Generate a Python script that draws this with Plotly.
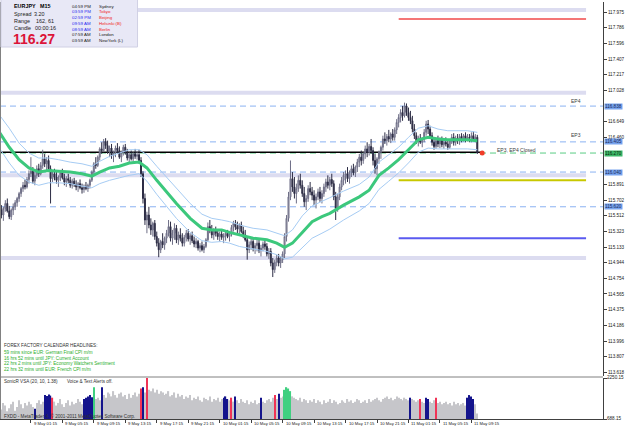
import plotly.graph_objects as go

# ---------------- data ----------------
opens = [115.66,115.58,115.52,115.60,115.66,115.57,115.50,115.58,115.62,115.67,
115.72,115.78,115.84,115.88,115.86,115.95,116.02,116.05,115.93,116.00,
116.08,116.02,116.12,116.20,116.14,116.18,116.08,115.96,116.02,115.98,
115.94,115.98,116.03,115.97,115.92,115.96,115.94,115.88,115.93,115.89,
115.86,115.90,115.85,115.83,115.87,115.84,115.88,115.94,116.04,116.14,
116.12,116.22,116.32,116.30,116.41,116.36,116.29,116.33,116.24,116.27,
116.33,116.30,116.22,116.28,116.34,116.27,116.21,116.25,116.20,116.26,
116.23,116.25,116.18,116.02,115.72,115.46,115.52,115.40,115.34,115.42,
115.26,115.18,115.10,115.20,115.16,115.24,115.30,115.38,115.24,115.30,
115.36,115.22,115.28,115.24,115.18,115.25,115.30,115.23,115.27,115.21,
115.17,115.20,115.12,115.15,115.10,115.14,115.22,115.38,115.34,115.28,
115.33,115.30,115.26,115.29,115.25,115.27,115.30,115.26,115.30,115.37,
115.42,115.38,115.35,115.40,115.32,115.28,115.22,115.10,115.16,115.20,
115.12,115.15,115.18,115.09,115.12,115.17,115.14,115.05,115.08,114.94,
114.86,114.95,115.00,114.94,114.98,115.05,115.26,115.48,115.74,115.96,
115.86,115.78,115.84,115.94,115.88,115.78,115.68,115.72,115.84,115.80,
115.76,115.70,115.74,115.80,115.72,115.78,115.86,115.92,115.88,115.95,
115.90,115.74,115.60,115.74,115.86,115.94,116.00,116.02,115.96,116.04,
116.08,116.03,116.10,116.16,116.22,116.18,116.26,116.32,116.28,116.35,
116.30,116.18,116.08,116.20,116.28,116.34,116.44,116.42,116.47,116.44,
116.50,116.46,116.55,116.64,116.70,116.76,116.72,116.84,116.76,116.70,
116.66,116.56,116.48,116.42,116.45,116.40,116.44,116.52,116.62,116.56,
116.48,116.40,116.35,116.42,116.38,116.44,116.37,116.40,116.38,116.34,
116.42,116.46,116.40,116.45,116.42,116.47,116.44,116.48,116.43,116.46,
116.45,116.48,116.44,116.46]
highs = [115.72,115.64,115.62,115.70,115.72,115.63,115.60,115.66,115.70,115.74,
115.80,115.86,115.92,115.95,115.98,116.06,116.22,116.10,116.04,116.12,
116.14,116.16,116.31,116.26,116.22,116.24,116.12,116.06,116.08,116.04,
116.00,116.06,116.08,116.02,115.99,116.02,115.98,115.96,115.97,115.94,
115.92,115.95,115.90,115.89,115.92,115.90,115.96,116.06,116.16,116.22,
116.24,116.34,116.40,116.44,116.45,116.42,116.36,116.38,116.30,116.36,
116.39,116.35,116.30,116.37,116.38,116.32,116.28,116.30,116.28,116.32,
116.29,116.31,116.22,116.05,115.78,115.56,115.62,115.48,115.44,115.46,
115.32,115.24,115.22,115.30,115.26,115.34,115.46,115.44,115.34,115.42,
115.40,115.32,115.36,115.30,115.28,115.34,115.35,115.30,115.32,115.26,
115.24,115.22,115.18,115.20,115.17,115.24,115.43,115.46,115.40,115.36,
115.38,115.34,115.32,115.34,115.30,115.33,115.34,115.32,115.40,115.45,
115.46,115.44,115.42,115.44,115.38,115.34,115.26,115.20,115.24,115.25,
115.18,115.22,115.22,115.16,115.20,115.23,115.18,115.12,115.12,115.00,
114.98,115.04,115.05,115.02,115.08,115.30,115.52,115.80,116.18,116.04,
115.98,115.90,116.00,116.02,115.94,115.86,115.76,115.88,115.92,115.86,
115.82,115.78,115.84,115.86,115.82,115.90,115.96,116.00,115.98,116.02,
115.94,115.80,115.78,115.90,115.98,116.04,116.06,116.10,116.06,116.12,
116.14,116.12,116.20,116.26,116.30,116.28,116.36,116.40,116.38,116.44,
116.34,116.26,116.22,116.30,116.36,116.48,116.52,116.50,116.55,116.52,
116.56,116.58,116.68,116.74,116.80,116.84,116.88,116.87,116.82,116.78,
116.72,116.62,116.52,116.48,116.50,116.46,116.56,116.66,116.67,116.60,
116.52,116.46,116.44,116.48,116.46,116.47,116.44,116.46,116.42,116.44,
116.50,116.51,116.48,116.50,116.50,116.51,116.50,116.52,116.50,116.50,
116.52,116.53,116.50,116.49]
lows = [115.55,115.48,115.45,115.56,115.55,115.47,115.46,115.52,115.58,115.62,
115.68,115.74,115.80,115.83,115.84,115.90,115.98,115.90,115.88,115.96,
115.98,116.00,116.08,116.10,116.06,116.04,115.66,115.92,115.94,115.90,
115.86,115.93,115.95,115.88,115.86,115.90,115.85,115.84,115.86,115.82,
115.80,115.83,115.78,115.79,115.82,115.80,115.84,115.92,116.00,116.08,
116.10,116.18,116.26,116.28,116.32,116.26,116.22,116.20,116.16,116.22,
116.26,116.20,116.16,116.24,116.25,116.18,116.15,116.18,116.17,116.20,
116.19,116.14,115.98,115.66,115.40,115.30,115.36,115.28,115.26,115.22,
115.14,115.01,115.06,115.12,115.10,115.18,115.26,115.20,115.16,115.22,
115.18,115.16,115.20,115.14,115.14,115.20,115.20,115.16,115.18,115.13,
115.12,115.09,115.07,115.08,115.06,115.12,115.20,115.30,115.24,115.22,
115.26,115.22,115.20,115.22,115.18,115.21,115.24,115.20,115.26,115.32,
115.34,115.30,115.28,115.30,115.24,115.20,114.98,115.06,115.10,115.08,
115.05,115.08,115.06,115.02,115.08,115.10,115.02,114.99,114.90,114.77,
114.82,114.90,114.90,114.88,114.94,115.00,115.20,115.44,115.70,115.80,
115.72,115.66,115.80,115.84,115.74,115.62,115.58,115.68,115.76,115.70,
115.64,115.60,115.70,115.68,115.66,115.74,115.80,115.84,115.82,115.86,
115.70,115.46,115.56,115.70,115.82,115.88,115.90,115.92,115.90,115.98,
116.00,115.98,116.04,116.10,116.12,116.14,116.20,116.22,116.24,116.26,
116.12,116.02,116.00,116.14,116.20,116.30,116.38,116.36,116.40,116.39,
116.42,116.42,116.50,116.58,116.64,116.66,116.70,116.72,116.66,116.62,
116.52,116.44,116.38,116.35,116.38,116.34,116.40,116.48,116.50,116.44,
116.36,116.31,116.32,116.34,116.33,116.34,116.32,116.35,116.31,116.32,
116.38,116.36,116.36,116.38,116.37,116.40,116.41,116.40,116.41,116.40,
116.40,116.42,116.40,116.26]
closes = [115.58,115.52,115.60,115.66,115.57,115.50,115.58,115.62,115.67,115.72,
115.78,115.84,115.88,115.86,115.95,116.02,116.05,115.93,116.00,116.08,
116.02,116.12,116.20,116.14,116.18,116.08,115.96,116.02,115.98,115.94,
115.98,116.03,115.97,115.92,115.96,115.94,115.88,115.93,115.89,115.86,
115.90,115.85,115.83,115.87,115.84,115.88,115.94,116.04,116.14,116.12,
116.22,116.32,116.30,116.41,116.36,116.29,116.33,116.24,116.27,116.33,
116.30,116.22,116.28,116.34,116.27,116.21,116.25,116.20,116.26,116.23,
116.25,116.18,116.02,115.72,115.46,115.52,115.40,115.34,115.42,115.26,
115.18,115.10,115.20,115.16,115.24,115.30,115.38,115.24,115.30,115.36,
115.22,115.28,115.24,115.18,115.25,115.30,115.23,115.27,115.21,115.17,
115.20,115.12,115.15,115.10,115.14,115.22,115.38,115.34,115.28,115.33,
115.30,115.26,115.29,115.25,115.27,115.30,115.26,115.30,115.37,115.42,
115.38,115.35,115.40,115.32,115.28,115.22,115.10,115.16,115.20,115.12,
115.15,115.18,115.09,115.12,115.17,115.14,115.05,115.08,114.94,114.86,
114.95,115.00,114.94,114.98,115.05,115.26,115.48,115.74,115.96,115.86,
115.78,115.84,115.94,115.88,115.78,115.68,115.72,115.84,115.80,115.76,
115.70,115.74,115.80,115.72,115.78,115.86,115.92,115.88,115.95,115.90,
115.74,115.60,115.74,115.86,115.94,116.00,116.02,115.96,116.04,116.08,
116.03,116.10,116.16,116.22,116.18,116.26,116.32,116.28,116.35,116.30,
116.18,116.08,116.20,116.28,116.34,116.44,116.42,116.47,116.44,116.50,
116.46,116.55,116.64,116.70,116.76,116.72,116.84,116.76,116.70,116.66,
116.56,116.48,116.42,116.45,116.40,116.44,116.52,116.62,116.56,116.48,
116.40,116.35,116.42,116.38,116.44,116.37,116.40,116.38,116.34,116.42,
116.46,116.40,116.45,116.42,116.47,116.44,116.48,116.43,116.46,116.45,
116.48,116.44,116.46,116.27]

volumes = [1150,1050,1300,1200,980,1100,1250,1350,1000,1150,1400,1250,1100,1300,1200,1350,
1250,1150,1080,1300,1400,1250,1350,1600,1560,1620,1580,1500,
1350,1200,1300,1450,1250,1150,1300,1400,1200,1350,1250,1300,1450,1350,1250,
1450,1500,1550,1600,1520,1900,1450,1500,1400,1900,
1600,1500,1700,1650,1550,1750,1600,1500,1650,1700,1550,1600,1450,1650,1500,1600,1700,1550,1650,
1850,1900,1700,2250,
1800,1750,1850,1700,1800,1650,1750,1700,1600,1650,1750,1550,1600,1700,1500,1650,1550,1600,1450,1550,
1500,1600,1400,1500,1450,1550,1400,1350,1500,1450,1400,1550,1350,1450,1400,1500,1350,1450,
1500,1550,1450,1400,1500,1350,1550,
1400,1300,1450,1350,1300,1400,1250,1350,1300,1400,1250,1300,
1500,1350,1300,1400,1450,1350,1500,1600,1450,1650,1500,1550,1800,1900,1850,1750,
1550,1500,1450,1400,1500,1350,1450,1400,1300,1400,1350,1450,1300,1400,1350,1250,1400,1300,1350,1450,
1300,1400,1350,1250,1300,1400,1350,1300,1450,1350,1400,1300,1350,1450,1400,1300,1350,1400,1300,1450,
1350,1400,1450,1500,1400,1350,1450,1500,1550,1450,1500,1400,1450,1550,1500,1450,1400,1500,1450,1400,
1500,1450,1400,1350,1400,1450,1350,1300,1500,1450,1350,1300,1400,1500,
1300,1350,1250,1300,1350,1250,1300,1200,1350,1250,1300,1200,1250,1300,1200,
1500,1600,1550,1450,1250,900]
vol_navy = [18,23,24,25,26,43,44,45,46,47,52,73,114,115,116,120,133,142,209,217,218,238,239,240,241]
vol_red = [27,72,75,118,140,214,222]
vol_green = [48,145,146,147,148]

ma_bars = [0,5,10,15,20,25,30,36,42,47,51,56,61,66,71,75,80,85,90,97,103,108,113,117,122,129,136,141,145,149,
           154,159,164,168,175,183,188,193,198,203,208,213,218,223,228,233,238,243]
ma_mid = [116.52,116.34,116.19,116.09,116.04,116.06,116.05,116.04,116.02,115.99,116.04,116.09,116.11,116.15,116.16,
          116.09,115.94,115.80,115.66,115.48,115.36,115.34,115.34,115.31,115.28,115.24,115.22,115.18,115.13,115.18,
          115.31,115.44,115.50,115.54,115.64,115.74,115.82,116.00,116.09,116.19,116.31,116.43,116.46,116.44,116.43,
          116.43,116.43,116.42]
ma_up = [116.73,116.57,116.39,116.27,116.21,116.21,116.19,116.16,116.14,116.11,116.17,116.23,116.27,116.31,116.31,
         116.25,116.11,115.98,115.85,115.66,115.53,115.48,115.46,115.44,115.40,115.36,115.34,115.30,115.27,115.34,
         115.51,115.63,115.69,115.73,115.81,115.89,115.98,116.16,116.25,116.34,116.46,116.57,116.60,116.56,116.54,
         116.54,116.54,116.52]
ma_lo = [116.33,116.15,116.00,115.92,115.88,115.91,115.91,115.90,115.87,115.85,115.90,115.94,115.97,116.00,116.02,
         115.93,115.77,115.62,115.48,115.31,115.21,115.19,115.20,115.18,115.14,115.11,115.08,115.04,114.99,115.01,
         115.12,115.24,115.30,115.35,115.46,115.57,115.66,115.83,115.93,116.03,116.15,116.28,116.33,116.32,116.32,
         116.32,116.32,116.31]

round_levels = [118.00, 117.00, 116.00, 115.00]
red_level = 117.89
olive_level = 115.94
blue_level = 115.24
dashed_levels = [116.838, 116.405, 116.040, 115.620]
bid = 116.27
closed_price = 116.28

price_ticks = [117.975,117.786,117.596,117.407,117.217,117.028,116.649,116.460,115.891,
               115.702,115.512,115.323,115.133,114.944,114.754,114.565,114.375,114.186,113.996,113.807,113.618]
time_tick_bars = [0,16,32,48,64,80,96,112,128,144,160,176,192,208,224,240]
time_tick_text = ["6 May 2011","9 May 01:15","9 May 05:15","9 May 09:15","9 May 13:15","9 May 17:15","9 May 21:15",
                  "10 May 01:15","10 May 05:15","10 May 09:15","10 May 13:15","10 May 17:15","10 May 21:15",
                  "11 May 01:15","11 May 05:15","11 May 09:15"]

headlines = ["59 mins since EUR: German Final CPI m/m",
             "16 hrs 52 mins until JPY: Current Account",
             "22 hrs 2 mins until JPY: Economy Watchers Sentiment",
             "22 hrs 32 mins until EUR: French CPI m/m"]
clock_times = ["04:59 PM","03:59 PM","02:59 PM","09:59 AM","08:59 AM","07:59 AM","03:59 AM"]
clock_cities = ["Sydney","Tokyo","Beijing","Helsinki (B)","Berlin","London","NewYork (L)"]
clock_open = [False, True, True, True, True, False, False]

# ---------------- figure ----------------
W, H = 625, 429
ML, MR, MT, MB = 0, 20, 2, 10
PW, PH = W - ML - MR, H - MT - MB
def ax(px): return (px - ML) / PW
def ay(py): return (H - MB - py) / PH

FONT = "Liberation Sans"
n = len(closes)
bars = list(range(n))

fig = go.Figure()
fig.add_trace(go.Candlestick(
    x=bars, open=opens, high=highs, low=lows, close=closes, xaxis="x", yaxis="y",
    increasing=dict(line=dict(color="#6e6e86", width=1), fillcolor="#b4b4c4"),
    decreasing=dict(line=dict(color="#2c2c44", width=1), fillcolor="#2c2c44"),
    whiskerwidth=0, hoverinfo="skip"))
fig.add_trace(go.Scatter(x=ma_bars, y=ma_up, mode="lines", line=dict(color="#a6ccf4", width=1), yaxis="y"))
fig.add_trace(go.Scatter(x=ma_bars, y=ma_lo, mode="lines", line=dict(color="#a6ccf4", width=1), yaxis="y"))
fig.add_trace(go.Scatter(x=ma_bars, y=ma_mid, mode="lines", line=dict(color="#3cc87c", width=3), yaxis="y"))

vcols = []
for i in range(n):
    c = "#c6c6ca"
    if i in vol_navy: c = "#14148c"
    if i in vol_red: c = "#f03456"
    if i in vol_green: c = "#40d080"
    vcols.append(c)
fig.add_trace(go.Bar(x=bars, y=[v - 688.15 for v in volumes], base=688.15, marker=dict(color=vcols, line=dict(width=0)),
                     width=0.6, xaxis="x", yaxis="y2"))

# red dot where EP3/EP4 closed
fig.add_trace(go.Scatter(x=[n + 1.5], y=[closed_price - 0.01], mode="markers",
                         marker=dict(color="#f03c28", size=5), yaxis="y"))

x0b = 16 - 31 / 1.973
x1b = 16 + (PW - 31) / 1.973
bar_588 = 16 + (588 - 31) / 1.973
bar_400 = 16 + (400 - 31) / 1.973

shapes = []
for lv in round_levels:
    shapes.append(dict(type="line", xref="x", yref="y", x0=x0b, x1=bar_588, y0=lv, y1=lv,
                       line=dict(color="#dcdcf0", width=4), layer="below"))
for lv in dashed_levels:
    shapes.append(dict(type="line", xref="x", yref="y", x0=x0b, x1=x1b, y0=lv, y1=lv,
                       line=dict(color="#8ab2f2", width=1, dash="6px,4px"), layer="below"))
shapes.append(dict(type="line", xref="x", yref="y", x0=x0b, x1=x1b, y0=bid, y1=bid,
                   line=dict(color="#58cc84", width=1, dash="6px,4px"), layer="below"))
shapes.append(dict(type="line", xref="x", yref="y", x0=x0b, x1=n + 1.5, y0=closed_price, y1=closed_price,
                   line=dict(color="#000000", width=1.5), layer="below"))
shapes.append(dict(type="line", xref="x", yref="y", x0=bar_400, x1=bar_588, y0=red_level, y1=red_level,
                   line=dict(color="#f04848", width=1.5)))
shapes.append(dict(type="line", xref="x", yref="y", x0=bar_400, x1=bar_588, y0=olive_level, y1=olive_level,
                   line=dict(color="#c8c800", width=2)))
shapes.append(dict(type="line", xref="x", yref="y", x0=bar_400, x1=bar_588, y0=blue_level, y1=blue_level,
                   line=dict(color="#5a5af0", width=2)))
shapes.append(dict(type="line", xref="paper", yref="paper", x0=0, x1=1, y0=ay(377), y1=ay(377),
                   line=dict(color="#808080", width=1)))
shapes.append(dict(type="line", xref="paper", yref="paper", x0=ax(0.5), x1=ax(0.5), y0=0, y1=1,
                   line=dict(color="#808080", width=1)))
shapes.append(dict(type="rect", xref="paper", yref="paper", x0=ax(1), x1=ax(138), y0=ay(47), y1=ay(-2),
                   fillcolor="#e8e8f6", line=dict(color="#d0d0e4", width=1)))

ann = []
def txt(px, py, s, size=5, color="#000000", bold=False, anchor="left"):
    ann.append(dict(x=ax(px), y=ay(py), xref="paper", yref="paper", text=("<b>%s</b>" % s) if bold else s,
                    showarrow=False, xanchor=anchor, yanchor="middle",
                    font=dict(family=FONT, size=size, color=color)))

txt(12, 6, "EURJPY   M15", 5.4, "#000000", True)
txt(12, 14, "Spread", 5.4, "#202020"); txt(32, 14, "3.20", 5.4, "#202020")
txt(12, 21, "Range", 5.4, "#202020"); txt(34, 21, "162, 61", 5.4, "#202020")
txt(12, 28, "Candle", 5.4, "#202020"); txt(33, 28, "00:00:16", 5.4, "#202020")
txt(11, 39, "116.27", 14, "#dc1438", True)
rows_y = [6, 12, 18, 23.5, 29, 35, 41]
for t, c, op, yy in zip(clock_times, clock_cities, clock_open, rows_y):
    txt(70, yy, t, 4.4, "#2a2af0" if op else "#202020")
    txt(97, yy, c, 4.4, "#f02020" if op else "#202020")

txt(2.5, 345, "FOREX FACTORY CALENDAR HEADLINES:", 4.6, "#303030")
for k, h in enumerate(headlines):
    txt(2.5, 352.5 + k * 5.7, h, 4.6, "#2cae2c")
txt(2.5, 381, "SonicR VSA (20, 10, 1.38)", 4.6, "#303030")
txt(65, 381, "Voice & Text Alerts off.", 4.6, "#303030")
txt(2.5, 416, "FXDD - MetaTrader 4, \u00a9 2001-2011 MetaQuotes Software Corp.", 4.6, "#303030")

txt(578, 101, "EP4", 5, "#404040", anchor="center")
txt(578, 135, "EP3", 5, "#404040", anchor="center")
txt(497, 150, "EP3, EP4 Closed", 5, "#404040")

for lv in dashed_levels:
    ann.append(dict(x=ax(606), y=lv, xref="paper", yref="y", text="%.3f" % lv, showarrow=False,
                    xanchor="left", yanchor="middle", bgcolor="#78a4ee", borderpad=0,
                    font=dict(family=FONT, size=4.6, color="#1a2a5a")))
ann.append(dict(x=ax(606), y=bid, xref="paper", yref="y", text="%.3f" % bid, showarrow=False,
                xanchor="left", yanchor="middle", bgcolor="#3cb868", borderpad=0,
                font=dict(family=FONT, size=4.6, color="#0a2a0a")))
ann.append(dict(x=ax(607), y=ay(377.5), xref="paper", yref="paper", text="2250.15", showarrow=False,
                xanchor="left", yanchor="middle", font=dict(family=FONT, size=4.6, color="#202020")))
ann.append(dict(x=ax(607), y=ay(418), xref="paper", yref="paper", text="688.15", showarrow=False,
                xanchor="left", yanchor="middle", font=dict(family=FONT, size=4.6, color="#202020")))
for b, s in zip(time_tick_bars, time_tick_text):
    ann.append(dict(x=b, y=ay(424), xref="x", yref="paper", text=s, showarrow=False, xanchor="left",
                    yanchor="middle", xshift=1, font=dict(family=FONT, size=4.2, color="#202020")))

fig.update_layout(
    width=W, height=H, margin=dict(l=ML, r=MR, t=MT, b=MB),
    paper_bgcolor="white", plot_bgcolor="white", showlegend=False,
    shapes=shapes, annotations=ann,
    xaxis=dict(range=[x0b, x1b], anchor="y2", tickvals=time_tick_bars, ticktext=[""] * len(time_tick_bars),
               ticks="outside", ticklen=3, tickcolor="#404040", showgrid=False, zeroline=False,
               showline=True, linecolor="#404040", linewidth=1, rangeslider=dict(visible=False), fixedrange=True),
    yaxis=dict(domain=[ay(376), 1], range=[113.573, 118.097], side="right", anchor="x",
               tickvals=price_ticks, ticktext=["%.3f" % v for v in price_ticks], ticks="outside", ticklen=3,
               tickcolor="#404040", tickfont=dict(family=FONT, size=4.6, color="#202020"),
               showgrid=False, zeroline=False, showline=True, linecolor="#404040", linewidth=1),
    yaxis2=dict(domain=[0, ay(378)], range=[688.15, 2250.15], side="right", anchor="x",
                tickvals=[2250.15, 688.15], ticktext=["", ""], ticks="outside", ticklen=3, tickcolor="#404040",
                showgrid=False, zeroline=False, showline=True, linecolor="#404040", linewidth=1),
)
fig.write_html("out.html")
